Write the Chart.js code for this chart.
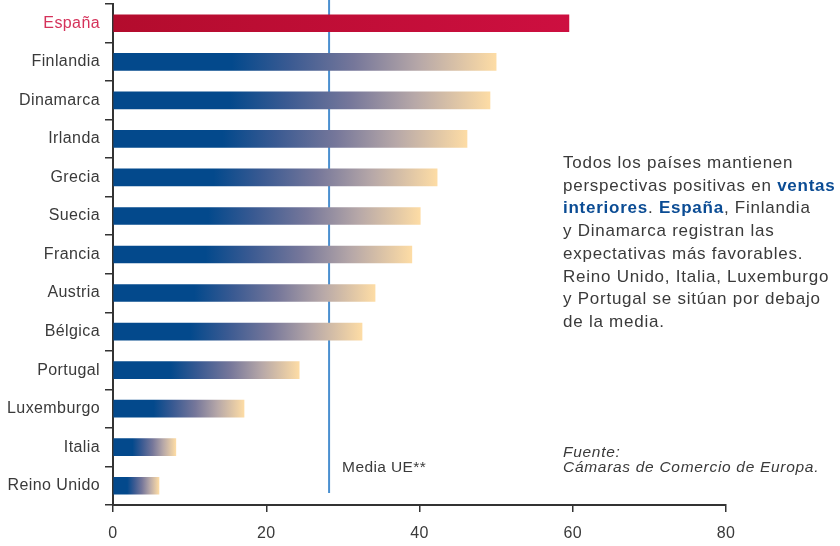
<!DOCTYPE html>
<html>
<head>
<meta charset="utf-8">
<script src="https://cdn.jsdelivr.net/npm/chart.js@4"></script>
<style>
  html, body { margin: 0; padding: 0; background: #fff; }
  #wrap { position: relative; width: 840px; height: 546px; }
  .nota { position: absolute; font-family: "Liberation Sans", Arial, sans-serif; color: #3a3a3a; }
  #texto { left: 563px; top: 152px; font-size: 17px; line-height: 22.7px; letter-spacing: 0.75px; width: 290px; white-space: nowrap; }
  #texto b { color: #0b4c94; }
  #fuente { left: 563px; top: 444px; font-size: 15.5px; line-height: 15px; font-style: italic; letter-spacing: 0.7px; }
</style>
</head>
<body>
<div id="wrap">
  <canvas id="grafico" width="840" height="546"></canvas>
  <div id="texto" class="nota">Todos los países mantienen<br>perspectivas positivas en <b>ventas<br>interiores</b>. <b>España</b>, Finlandia<br>y Dinamarca registran las<br>expectativas más favorables.<br>Reino Unido, Italia, Luxemburgo<br>y Portugal se sitúan por debajo<br>de la media.</div>
  <div id="fuente" class="nota">Fuente:<br>Cámaras de Comercio de Europa.</div>
</div>
<script>
const paises = ['España', 'Finlandia', 'Dinamarca', 'Irlanda', 'Grecia', 'Suecia', 'Francia',
                'Austria', 'Bélgica', 'Portugal', 'Luxemburgo', 'Italia', 'Reino Unido'];
const valores = [59.5, 50.0, 49.2, 46.2, 42.3, 40.1, 39.0, 34.2, 32.5, 24.3, 17.1, 8.2, 6.0];
const mediaUE = 28.2;
const ticksX = [0, 20, 40, 60, 80];

// degradado de cada barra, de 0 hasta su valor
function colorBarra(ctx) {
    const chart = ctx.chart;
    if (!chart.chartArea) return '#03498c';
    const x = chart.scales.x;
    const x0 = x.getPixelForValue(0);
    const x1 = x.getPixelForValue(ctx.raw);
    const g = chart.ctx.createLinearGradient(x0, 0, x1, 0);
    if (ctx.dataIndex === 0) {
        g.addColorStop(0, '#b30c2d');
        g.addColorStop(1, '#cd0f40');
    } else {
        g.addColorStop(0, '#03498c');
        g.addColorStop(0.31, '#03498c');
        g.addColorStop(0.46, '#3a5a92');
        g.addColorStop(0.63, '#76779a');
        g.addColorStop(0.8, '#b7a8a8');
        g.addColorStop(1, '#fddca5');
    }
    return g;
}

const espaciado = {
    id: 'espaciado',
    beforeUpdate(chart) { chart.ctx.letterSpacing = '0.4px'; },
    beforeDraw(chart) { chart.ctx.letterSpacing = '0.4px'; }
};

const lineaMedia = {
    id: 'lineaMedia',
    beforeDatasetsDraw(chart) {
        const c = chart.ctx;
        const px = chart.scales.x.getPixelForValue(mediaUE);
        c.save();
        c.strokeStyle = '#4a8fd0';
        c.lineWidth = 2;
        c.beginPath();
        c.moveTo(px, 0);
        c.lineTo(px, 493);
        c.stroke();
        c.fillStyle = '#3a3a3a';
        c.font = '15.5px "Liberation Sans", Arial, sans-serif';
        c.textBaseline = 'middle';
        c.fillText('Media UE**', px + 13, 468);
        c.restore();
    }
};

new Chart(document.getElementById('grafico'), {
    type: 'bar',
    data: {
        labels: paises,
        datasets: [{
            data: valores,
            backgroundColor: colorBarra,
            barThickness: 17,
            borderWidth: 0
        }]
    },
    options: {
        indexAxis: 'y',
        responsive: false,
        animation: false,
        layout: { padding: { top: 4, right: 114, left: 0, bottom: 0 } },
        plugins: { legend: { display: false }, tooltip: { enabled: false } },
        scales: {
            x: {
                min: 0, max: 80,
                afterBuildTicks(scale) { scale.ticks = ticksX.map(v => ({ value: v })); },
                afterFit(scale) { scale.height = 41; scale.paddingLeft = 0; scale.paddingRight = 0; },
                grid: { drawOnChartArea: false, tickLength: 7, color: '#333', lineWidth: 1.5 },
                border: { color: '#333', width: 2 },
                ticks: { color: '#3a3a3a', padding: 12, font: { size: 16, family: '"Liberation Sans", Arial, sans-serif' } }
            },
            y: {
                afterFit(scale) { scale.width = 113; scale.paddingTop = 0; scale.paddingBottom = 0; },
                grid: { offset: true, drawOnChartArea: false, tickLength: 8, color: '#333', lineWidth: 1.5 },
                border: { color: '#333', width: 2 },
                ticks: {
                    padding: 5,
                    color: c => c.index === 0 ? '#d5325a' : '#3a3a3a',
                    font: { size: 16, family: '"Liberation Sans", Arial, sans-serif' }
                }
            }
        }
    },
    plugins: [espaciado, lineaMedia]
});
</script>
</body>
</html>
